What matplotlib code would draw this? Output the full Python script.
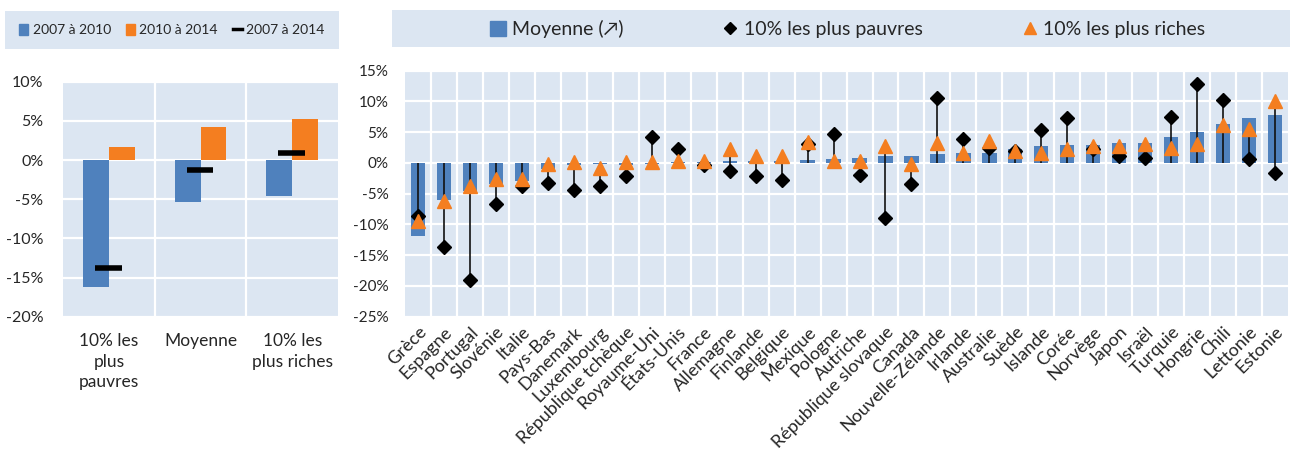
import numpy as np
import matplotlib
matplotlib.use('Agg')
import matplotlib.pyplot as plt
from matplotlib.patches import Rectangle, Patch
from matplotlib.lines import Line2D
from matplotlib.ticker import FuncFormatter

plt.rcParams['font.family'] = ['Lato', 'DejaVu Sans']

# left panel data (% change)
groups = ['10% les\nplus\npauvres', 'Moyenne', '10% les\nplus riches']
chg_2007_2010 = [-16.2, -5.4, -4.6]
chg_2010_2014 = [1.6, 4.2, 5.3]
chg_2007_2014 = [-13.8, -1.3, 0.85]

# right panel data (% change by country)
countries = ['Grèce', 'Espagne', 'Portugal', 'Slovénie', 'Italie', 'Pays-Bas',
             'Danemark', 'Luxembourg', 'République tchèque', 'Royaume-Uni',
             'États-Unis', 'France', 'Allemagne', 'Finlande', 'Belgique',
             'Mexique', 'Pologne', 'Autriche', 'République slovaque', 'Canada',
             'Nouvelle-Zélande', 'Irlande', 'Australie', 'Suède', 'Islande',
             'Corée', 'Norvège', 'Japon', 'Israël', 'Turquie', 'Hongrie',
             'Chili', 'Lettonie', 'Estonie']
moyenne = [-11.9, -6.1, -4.5, -3.5, -2.9, -1.0, -0.4, -0.2, -0.3, -0.2,
           0.1, 0.1, 0.3, 0.3, 0.4, 0.5, 0.6, 0.8, 1.1, 1.2,
           1.5, 1.6, 1.7, 2.3, 2.8, 2.9, 2.9, 3.2, 3.3, 4.3,
           5.0, 6.4, 7.3, 7.8]
pauvres = [-8.7, -13.7, -19.1, -6.7, -3.8, -3.3, -4.4, -3.8, -2.1, 4.2,
           2.3, -0.3, -1.3, -2.2, -2.7, 3.1, 4.7, -1.9, -9.0, -3.4,
           10.6, 3.9, 2.4, 1.9, 5.3, 7.3, 2.3, 1.1, 0.8, 7.4,
           12.9, 10.3, 0.6, -1.7]
riches = [-9.5, -6.2, -3.7, -2.6, -2.6, -0.2, 0.1, -0.9, 0.2, 0.2,
          0.4, 0.4, 2.2, 1.1, 1.1, 3.4, 0.4, 0.4, 2.7, -0.1,
          3.3, 1.7, 3.5, 1.9, 1.6, 2.2, 2.7, 2.8, 3.1, 2.5,
          3.1, 6.2, 5.6, 10.0]

BLUE = '#4F81BD'
ORANGE = '#F47E20'
BG = '#DCE6F2'
TXT = '#262626'

pct = FuncFormatter(lambda v, p: f'{v:.0f}%')

fig = plt.figure(figsize=(12.94, 4.61), dpi=100)


def style_axes(ax, n):
    ax.set_facecolor(BG)
    for s in ax.spines.values():
        s.set_visible(False)
    ax.set_xlim(-0.5, n - 0.5)
    ax.set_xticks(np.arange(n - 1) + 0.5, minor=True)
    ax.grid(True, which='minor', axis='x', color='white', lw=1.6)
    ax.grid(True, which='major', axis='y', color='white', lw=1.6)
    ax.set_axisbelow(True)
    ax.yaxis.set_major_formatter(pct)
    ax.tick_params(which='both', length=0, colors=TXT)


# ---- left panel ----
ax1 = fig.add_axes([0.0487, 0.313, 0.2125, 0.5098])
style_axes(ax1, len(groups))
x1 = np.arange(len(groups))
ax1.bar(x1 - 0.14, chg_2007_2010, width=0.28, color=BLUE, zorder=2)
ax1.bar(x1 + 0.14, chg_2010_2014, width=0.28, color=ORANGE, zorder=2)
ax1.hlines(chg_2007_2014, x1 - 0.15, x1 + 0.14, color='black', lw=4, zorder=3)
ax1.set_ylim(-20, 10)
ax1.set_yticks(np.arange(-20, 11, 5))
ax1.set_xticks(x1)
ax1.set_xticklabels(groups, fontsize=12.5, linespacing=1.35, va='top')
ax1.tick_params(axis='y', labelsize=11.5, pad=14)
ax1.tick_params(axis='x', pad=12)

# left legend
fig.patches.append(Rectangle((5 / 1294, 1 - 49 / 461), 334 / 1294, 38 / 461,
                             transform=fig.transFigure, facecolor=BG,
                             edgecolor='none', zorder=0))
h1 = [Patch(color=BLUE), Patch(color=ORANGE),
      Line2D([], [], color='black', lw=2.5)]
fig.legend(h1, ['2007 à 2010', '2010 à 2014', '2007 à 2014'],
           loc='center', bbox_to_anchor=(172 / 1294, 1 - 30 / 461), ncol=3,
           frameon=False, fontsize=10, handlelength=0.65, handleheight=0.8,
           handletextpad=0.3, columnspacing=1.1, labelcolor=TXT)

# ---- right panel ----
ax2 = fig.add_axes([0.313, 0.313, 0.6824, 0.5336])
n = len(countries)
style_axes(ax2, n)
x2 = np.arange(n)
ax2.bar(x2, moyenne, width=0.55, color=BLUE, zorder=2)
lo = np.minimum(np.minimum(pauvres, riches), 0)
hi = np.maximum(np.maximum(pauvres, riches), 0)
ax2.vlines(x2, lo, hi, color='#111111', lw=1.2, zorder=3)
ax2.plot(x2, pauvres, linestyle='none', marker='D', ms=7, color='black', zorder=4)
ax2.plot(x2, riches, linestyle='none', marker='^', ms=10, color=ORANGE, zorder=5)
ax2.set_ylim(-25, 15)
ax2.set_yticks(np.arange(-25, 16, 5))
ax2.set_xticks(x2)
ax2.set_xticklabels(countries, rotation=45, ha='right', rotation_mode='anchor',
                    fontsize=13)
ax2.tick_params(axis='y', labelsize=11, pad=12)
ax2.tick_params(axis='x', pad=5)

# right legend
fig.patches.append(Rectangle((392 / 1294, 1 - 47 / 461), 898 / 1294, 37 / 461,
                             transform=fig.transFigure, facecolor=BG,
                             edgecolor='none', zorder=0))
h2 = [Patch(color=BLUE),
      Line2D([], [], linestyle='none', marker='D', ms=6, color='black'),
      Line2D([], [], linestyle='none', marker='^', ms=9, color=ORANGE)]
fig.legend(h2, ['Moyenne (↗)', '10% les plus pauvres', '10% les plus riches'],
           loc='center', bbox_to_anchor=(848 / 1294, 1 - 29 / 461), ncol=3,
           frameon=False, fontsize=14, handlelength=0.8, handleheight=0.8,
           handletextpad=0.3, columnspacing=5.1, labelcolor=TXT)

fig.savefig('out.png', dpi=100)
